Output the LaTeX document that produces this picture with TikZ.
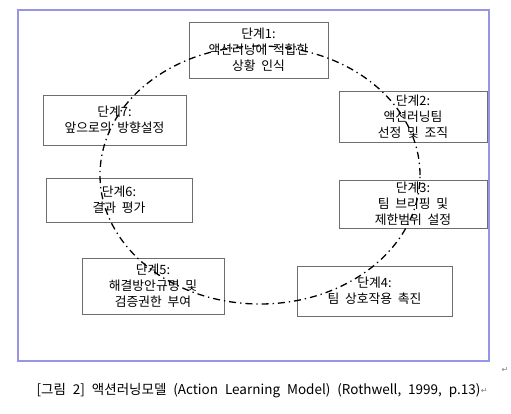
\documentclass[tikz,border=0pt]{standalone}
\usepackage{fontspec}
\setmainfont[WordSpace=2]{Noto Sans CJK KR}
\newfontfamily\capfont[WordSpace=2.3]{Noto Sans CJK KR}
\newfontfamily\symfont{DejaVu Sans}
\definecolor{framecol}{RGB}{150,150,228}
\definecolor{boxgray}{RGB}{110,110,110}
\begin{document}
\begin{tikzpicture}[x=1pt,y=-1pt,
  stepbox/.style={draw=boxgray, line width=0.9pt, align=center, inner sep=0pt,
    font=\fontsize{12.8}{15.8}\selectfont},
  cyc/.style={line width=1.3pt, dash pattern=on 7pt off 4pt on 1.3pt off 4pt},
  retmark/.style={text=gray, font=\symfont\fontsize{8}{8}\selectfont, inner sep=0pt}]
\useasboundingbox (0,0) rectangle (511,413);
\draw[framecol, line width=1.2pt] (18,10) rectangle (489,361);
\node[stepbox, minimum width=139pt, minimum height=56pt] (s1) at (258.5,50) {단계1:\\액션러닝에 적합한\\상황 인식};
\node[stepbox, minimum width=148pt, minimum height=51pt] (s2) at (413,116.5) {단계2:\\액션러닝팀\\선정 및 조직};
\node[stepbox, minimum width=148pt, minimum height=48pt] (s3) at (413,204) {단계3:\\팀 브리핑 및\\제한범위 설정};
\node[stepbox, minimum width=155pt, minimum height=50pt] (s4) at (374.5,291) {단계4:\\팀 상호작용 촉진};
\node[stepbox, minimum width=142pt, minimum height=56pt] (s5) at (153,286) {단계5:\\해결방안규명 및\\검증권한 부여};
\node[stepbox, minimum width=146pt, minimum height=44pt] (s6) at (119,200) {단계6:\\결과 평가};
\node[stepbox, minimum width=143pt, minimum height=50pt] (s7) at (114.5,120) {단계7:\\앞으로의 방향설정};
\draw[cyc] (260,175) ellipse [x radius=160pt, y radius=129pt];
\node[font=\capfont\fontsize{13.5}{15}\selectfont, inner sep=0pt] (cap) at (258.5,391) {[그림 2] 액션러닝모델 (Action Learning Model) (Rothwell, 1999, p.13)};
\node[retmark, anchor=west] (r1) at (cap.east) {↵};
\node[retmark] (r2) at (505,370) {↵};
\end{tikzpicture}
\end{document}
